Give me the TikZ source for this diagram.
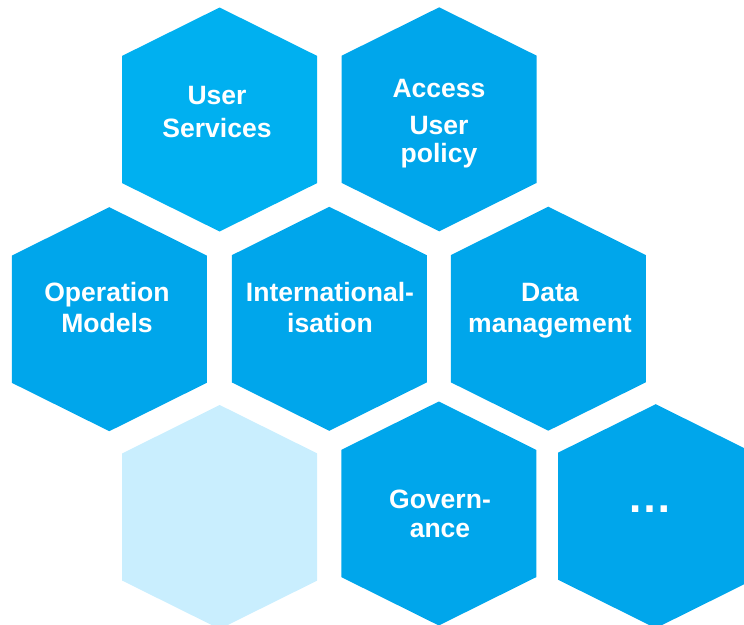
\documentclass[tikz,border=0pt]{standalone}
\usepackage{fontspec}
\setmainfont{Liberation Sans}
\definecolor{cellblue}{HTML}{00A6EB}
\definecolor{celltop}{HTML}{00B0F0}
\definecolor{cellpale}{HTML}{C9EEFE}
\tikzset{
  hexcell/.pic={
    \fill (0,-112) -- (97.5,-63.6) -- (97.5,63.6) -- (0,112)
      -- (-97.5,63.6) -- (-97.5,-63.6) -- cycle;
  },
  celltext/.style={text=white, align=center, anchor=base, inner sep=0pt,
    font=\fontsize{19.9}{23.25}\selectfont\bfseries},
}
\begin{document}
\begin{tikzpicture}[x=0.75pt,y=-0.75pt]
  \useasboundingbox (0,0) rectangle (744,625);
  \clip (0,0) rectangle (744,625);
  % honeycomb
  \pic[fill=celltop]  at (219.6,119.5) {hexcell};
  \pic[fill=cellblue] at (439.2,119.3) {hexcell};
  \pic[fill=cellblue] at (109.3,319.2) {hexcell};
  \pic[fill=cellblue] at (329.3,318.8) {hexcell};
  \pic[fill=cellblue] at (548.3,318.7) {hexcell};
  \pic[fill=cellpale] at (219.7,517.0) {hexcell};
  \pic[fill=cellblue] at (438.8,513.5) {hexcell};
  \pic[fill=cellblue] at (655.7,516.2) {hexcell};
  % labels (anchored at the baseline of the last line)
  \node[celltext] (services) at (217,137) {User\\[1.5pt]Services};
  \node[celltext] (access) at (439,162) {Access\\[4.5pt]User\\[-2.25pt]policy};
  \node[celltext] (operation) at (107,332.5) {Operation\\Models};
  \node[celltext] (internat) at (330,332.5) {International-\\isation};
  \node[celltext] (data) at (550,332.5) {Data\\management};
  \node[celltext] (governance) at (440,537) {Govern-\\[-1.5pt]ance};
  \node[celltext, font=\fontsize{33.75}{40}\selectfont\bfseries] (more) at (650,512) {…};
\end{tikzpicture}
\end{document}
